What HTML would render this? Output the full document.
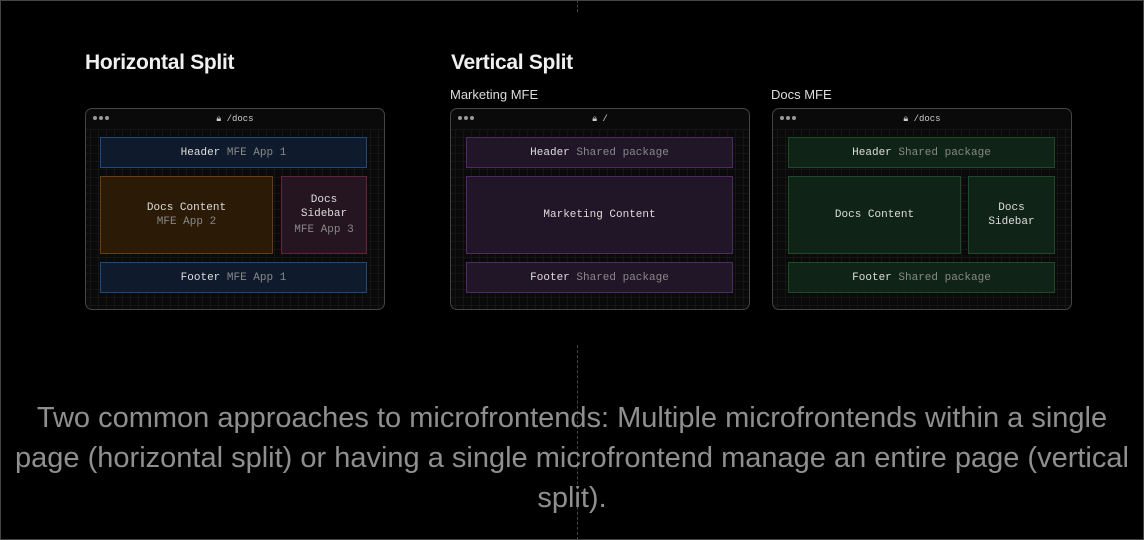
<!DOCTYPE html>
<html><head><style>
*{margin:0;padding:0;box-sizing:border-box}
body{width:1144px;height:540px;background:#000;position:relative;overflow:hidden;font-family:"Liberation Sans",sans-serif;color:#ededed}
.frame{position:absolute;border:1px solid #444;border-radius:7px;background:#0a0a0a;width:300px;height:202px;top:108px;
background-image:linear-gradient(#151515 1px,transparent 1px),linear-gradient(90deg,#151515 1px,transparent 1px);background-size:8px 8px;background-position:4px 4px}
.bar{position:absolute;left:0;right:0;top:0;height:20px;background:#0a0a0a;border-radius:7px 7px 0 0}
.dots{position:absolute;left:7px;top:7px;font-size:0}
.dots i{display:inline-block;width:4px;height:4px;border-radius:50%;background:#999;margin-right:2px}
.url{position:absolute;left:0;right:0;top:5px;text-align:center;font:9px "Liberation Mono",monospace;color:#ccc}
.box{position:absolute;border:1px solid;display:flex;flex-direction:column;align-items:center;justify-content:center;text-align:center;font:11px/14px "Liberation Mono",monospace;color:#ddd}
.box span{color:#888}
.blue{background:#0f1b2d;border-color:#1e4a7d}
.or{background:#2a1a06;border-color:#6b3d0c}
.red{background:#251520;border-color:#6b1e3d}
.pur{background:#211627;border-color:#4f2a66}
.grn{background:#0f2316;border-color:#1d4a27}
h2{position:absolute;font-size:21px;font-weight:bold;top:51px;color:#f0f0f0;letter-spacing:-0.3px}
.lbl{position:absolute;font-size:13px;top:87px;color:#ddd}
.cap{position:absolute;left:0;right:0;top:398px;text-align:center;font-size:29px;line-height:40px;color:#8f8f8f;white-space:nowrap}
.dash{position:absolute;left:577px;width:0;border-left:1px dashed #444}
.outer{position:absolute;inset:0;border:1px solid #444}
</style></head><body>
<div class="outer"></div>
<div class="dash" style="top:0;height:12px"></div>
<div class="dash" style="top:345px;height:195px"></div>
<h2 style="left:85px">Horizontal Split</h2>
<h2 style="left:451px">Vertical Split</h2>
<div class="lbl" style="left:450px">Marketing MFE</div>
<div class="lbl" style="left:771px">Docs MFE</div>

<div class="frame" style="left:85px">
<div class="bar"><div class="dots"><i></i><i></i><i></i></div><div class="url">🔒︎ /docs</div></div>
<div class="box blue" style="left:14px;top:28px;width:267px;height:31px"><div>Header <span>MFE App 1</span></div></div>
<div class="box or" style="left:14px;top:67px;width:173px;height:78px"><div>Docs Content</div><span>MFE App 2</span></div>
<div class="box red" style="left:195px;top:67px;width:86px;height:78px"><div>Docs<br>Sidebar</div><span style="margin-top:2px">MFE App 3</span></div>
<div class="box blue" style="left:14px;top:153px;width:267px;height:31px"><div>Footer <span>MFE App 1</span></div></div>
</div>

<div class="frame" style="left:450px">
<div class="bar"><div class="dots"><i></i><i></i><i></i></div><div class="url">🔒︎ /</div></div>
<div class="box pur" style="left:15px;top:28px;width:267px;height:31px"><div>Header <span>Shared package</span></div></div>
<div class="box pur" style="left:15px;top:67px;width:267px;height:78px"><div>Marketing Content</div></div>
<div class="box pur" style="left:15px;top:153px;width:267px;height:31px"><div>Footer <span>Shared package</span></div></div>
</div>

<div class="frame" style="left:772px">
<div class="bar"><div class="dots"><i></i><i></i><i></i></div><div class="url">🔒︎ /docs</div></div>
<div class="box grn" style="left:15px;top:28px;width:267px;height:31px"><div>Header <span>Shared package</span></div></div>
<div class="box grn" style="left:15px;top:67px;width:173px;height:78px"><div>Docs Content</div></div>
<div class="box grn" style="left:195px;top:67px;width:87px;height:78px"><div>Docs<br>Sidebar</div></div>
<div class="box grn" style="left:15px;top:153px;width:267px;height:31px"><div>Footer <span>Shared package</span></div></div>
</div>

<div class="cap">Two common approaches to microfrontends: Multiple microfrontends within a single<br>page (horizontal split) or having a single microfrontend manage an entire page (vertical<br>split).</div>
</body></html>
